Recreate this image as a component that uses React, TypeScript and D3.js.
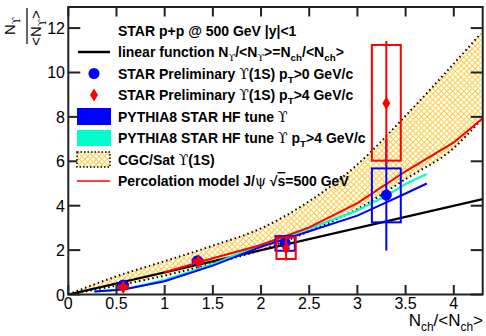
import React from "react";
import * as d3 from "d3";

const W = 486;
const H = 336;

// axis ticks
const xTicks = [0, 0.5, 1, 1.5, 2, 2.5, 3, 3.5, 4];
const yTicks = [0, 2, 4, 6, 8, 10, 12];

// linear function N/<N> = Nch/<Nch>
const linearX = [0, 4.3];

// PYTHIA8 STAR HF tune
const pythiaX = [0.27, 0.5, 0.6, 1.0, 1.5, 2.0, 2.5, 3.0, 3.3, 3.5, 3.72];
const pythiaAll = [0.13, 0.2, 0.25, 0.6, 1.3, 2.15, 2.85, 3.55, 4.15, 4.55, 5.0];
const pythiaHighPt = [0.13, 0.2, 0.26, 0.65, 1.36, 2.25, 2.98, 3.78, 4.45, 4.98, 5.43];

// percolation model J/psi
const percX = [1.0, 1.5, 2.0, 2.5, 3.0, 3.5, 4.0, 4.3];
const percY = [1.0, 1.63, 2.23, 3.02, 4.12, 5.55, 6.85, 7.94];

// CGC/Sat band
const cgcX = [0, 0.5, 1, 1.5, 2, 2.5, 3, 3.5, 4, 4.28];
const cgcHigh = [0, 0.82, 1.5, 2.2, 2.98, 4.2, 5.85, 8.05, 10.4, 11.75];
const cgcLow = [0, 0.4, 0.85, 1.4, 2.0, 2.85, 3.85, 5.2, 6.6, 7.85];

// STAR preliminary pT>0
const allX = [0.57, 1.34, 2.25, 3.3];
const allY = [0.43, 1.52, 2.33, 4.48];
const allStat = [0.08, 0.12, 0.3, 2.5];
const allSysLo = [0.4, 1.47, 1.97, 3.25];
const allSysHi = [0.46, 1.57, 2.63, 5.68];
const boxHalf = [0.05, 0.05, 0.1, 0.15];

// STAR preliminary pT>4
const highX = [0.57, 1.35, 2.26, 3.3];
const highY = [0.33, 1.48, 2.08, 8.62];
const highStat = [0.25, 0.3, 0.55, 2.8];
const highSysLo = [0.28, 1.42, 1.6, 6.03];
const highSysHi = [0.38, 1.55, 2.57, 11.24];

const x = d3.scaleLinear().domain([0, 4.3]).range([68.3, 482.7]);
const y = d3.scaleLinear().domain([0, 12.95]).range([294.5, 7]);

const BLUE = "#0000ff";
const CYAN = "#00ffcc";
const RED = "#ff0000";
const UPS = "\u03d2";

type Seg = { t: string; sub?: boolean; g?: boolean; o?: boolean };

// text with subscripts, ROOT-latex style
const Rich = ({ segs, size, ...rest }: any) => {
  let shift = 0;
  return (
    <text fontSize={size} {...rest}>
      {segs.map((s: Seg, i: number) => {
        const want = s.sub ? size * 0.3 : 0;
        const dy = want - shift;
        shift = want;
        return (
          <tspan
            key={i}
            dy={dy}
            fontSize={s.sub ? size * 0.7 : size}
            fontWeight={s.g ? "normal" : undefined}
            fontFamily={s.g ? "'DejaVu Serif', serif" : undefined}
            textDecoration={s.o ? "overline" : undefined}
          >
            {s.t}
          </tspan>
        );
      })}
    </text>
  );
};

const diamond = "M0,-6.5L4,0L0,6.5L-4,0Z";

const App = () => {
  const line = (xs: number[], ys: number[]) =>
    d3.line<number>().x((d) => x(d)).y((_, i) => y(ys[i]))(xs) as string;

  const band = d3
    .area<number>()
    .x((d) => x(d))
    .y0((_, i) => y(cgcLow[i]))
    .y1((_, i) => y(cgcHigh[i]))
    .curve(d3.curveMonotoneX)(cgcX) as string;
  const bandEdge = (ys: number[]) =>
    d3.line<number>().x((d) => x(d)).y((_, i) => y(ys[i])).curve(d3.curveMonotoneX)(cgcX) as string;

  const rowY = [30.5, 52, 73.5, 95, 116.5, 138, 159.5, 181];
  const tx = 118;
  const fs = 14;

  const legendText: Seg[][] = [
    [{ t: "STAR p+p @ 500 GeV |y|<1" }],
    [
      { t: "linear function N" }, { t: UPS, sub: true, g: true }, { t: "/<N" }, { t: UPS, sub: true, g: true },
      { t: ">=N" }, { t: "ch", sub: true }, { t: "/<N" }, { t: "ch", sub: true }, { t: ">" },
    ],
    [{ t: "STAR Preliminary  " }, { t: UPS, g: true }, { t: "(1S) p" }, { t: "T", sub: true }, { t: ">0 GeV/c" }],
    [{ t: "STAR Preliminary  " }, { t: UPS, g: true }, { t: "(1S) p" }, { t: "T", sub: true }, { t: ">4 GeV/c" }],
    [{ t: "PYTHIA8 STAR HF tune  " }, { t: UPS, g: true }],
    [{ t: "PYTHIA8 STAR HF tune  " }, { t: UPS, g: true }, { t: " p" }, { t: "T", sub: true }, { t: ">4 GeV/c" }],
    [{ t: "CGC/Sat  " }, { t: UPS, g: true }, { t: "(1S)" }],
    [{ t: "Percolation model J/" }, { t: "\u03c8", g: true }, { t: "  \u221a" }, { t: "s", o: true }, { t: "=500 GeV" }],
  ];

  const x0 = x.range()[0];
  const x1 = x.range()[1];
  const y0 = y.range()[0];
  const y1 = y.range()[1];

  return (
    <svg
      width={W}
      height={H}
      style={{ position: "absolute", left: 0, top: 0, background: "white" }}
      fontFamily="'Liberation Sans', Arial, sans-serif"
    >
      <defs>
        <clipPath id="plot">
          <rect x={x0} y={y1} width={x1 - x0} height={y0 - y1} />
        </clipPath>
        <pattern id="hatch" width={4} height={4} patternUnits="userSpaceOnUse" patternTransform="rotate(45)">
          <rect width={4} height={4} fill="white" />
          <line x1={0} y1={0.5} x2={4} y2={0.5} stroke="#ffcc44" strokeWidth={1} />
          <line x1={0.5} y1={0} x2={0.5} y2={4} stroke="#ffcc44" strokeWidth={1} />
        </pattern>
      </defs>

      <g clipPath="url(#plot)">
        {/* CGC band */}
        <path d={band} fill="url(#hatch)" />
        <path d={bandEdge(cgcHigh)} fill="none" stroke="#000" strokeWidth={2} strokeDasharray="1.5,3" />
        <path d={bandEdge(cgcLow)} fill="none" stroke="#000" strokeWidth={2} strokeDasharray="1.5,3" />

        {/* linear */}
        <path d={line(linearX, linearX)} fill="none" stroke="#000" strokeWidth={2.3} />

        {/* pythia */}
        <path d={line(pythiaX, pythiaHighPt)} fill="none" stroke={CYAN} strokeWidth={2.2} />
        <path d={line(pythiaX, pythiaAll)} fill="none" stroke={BLUE} strokeWidth={2} />

        {/* percolation */}
        <path d={line(percX, percY)} fill="none" stroke={RED} strokeWidth={2} />

        {/* pT>0 */}
        {allX.map((v, i) => (
          <g key={"a" + i}>
            <rect
              x={x(v - boxHalf[i])}
              y={y(allSysHi[i])}
              width={x(v + boxHalf[i]) - x(v - boxHalf[i])}
              height={y(allSysLo[i]) - y(allSysHi[i])}
              fill="none"
              stroke={BLUE}
              strokeWidth={2}
            />
            <line x1={x(v)} x2={x(v)} y1={y(allY[i] - allStat[i])} y2={y(allY[i] + allStat[i])} stroke={BLUE} strokeWidth={2} />
            <circle cx={x(v)} cy={y(allY[i])} r={5.5} fill={BLUE} />
          </g>
        ))}

        {/* pT>4 */}
        {highX.map((v, i) => (
          <g key={"h" + i}>
            <rect
              x={x(v - boxHalf[i])}
              y={y(highSysHi[i])}
              width={x(v + boxHalf[i]) - x(v - boxHalf[i])}
              height={y(highSysLo[i]) - y(highSysHi[i])}
              fill="none"
              stroke={RED}
              strokeWidth={2}
            />
            <line x1={x(v)} x2={x(v)} y1={y(highY[i] - highStat[i])} y2={y(highY[i] + highStat[i])} stroke={RED} strokeWidth={2} />
            <path d={diamond} transform={`translate(${x(v)},${y(highY[i])})`} fill={RED} />
          </g>
        ))}
      </g>

      {/* frame */}
      <rect x={x0} y={y1} width={x1 - x0} height={y0 - y1} fill="none" stroke="#222" strokeWidth={2} />

      {/* x ticks */}
      {xTicks.map((t) => (
        <g key={"xt" + t}>
          <line x1={x(t)} x2={x(t)} y1={y0} y2={y0 - 9.5} stroke="#222" strokeWidth={2} />
          <line x1={x(t)} x2={x(t)} y1={y1} y2={y1 + 9.5} stroke="#222" strokeWidth={2} />
          <text x={x(t)} y={309} fontSize={16} textAnchor="middle">
            {t}
          </text>
        </g>
      ))}

      {/* y ticks */}
      {yTicks.map((t) => (
        <g key={"yt" + t}>
          <line x1={x0} x2={x0 + 12} y1={y(t)} y2={y(t)} stroke="#222" strokeWidth={2} />
          <line x1={x1} x2={x1 - 12} y1={y(t)} y2={y(t)} stroke="#222" strokeWidth={2} />
          <text x={65} y={y(t) + 6} fontSize={16} textAnchor="end">
            {t}
          </text>
        </g>
      ))}

      {/* axis titles */}
      <Rich
        segs={[{ t: "N" }, { t: "ch", sub: true }, { t: "/<N" }, { t: "ch", sub: true }, { t: ">" }]}
        size={17}
        x={483}
        y={326}
        textAnchor="end"
      />
      <g transform="translate(27,26) rotate(-90)">
        <line x1={-18} x2={18} y1={0} y2={0} stroke="#000" strokeWidth={1.2} />
        <Rich segs={[{ t: "N" }, { t: UPS, sub: true, g: true }]} size={15} x={0} y={-12} textAnchor="middle" />
        <Rich
          segs={[{ t: "<N" }, { t: UPS, sub: true, g: true }, { t: ">" }]}
          size={15}
          x={-2}
          y={14}
          textAnchor="middle"
        />
      </g>

      {/* legend */}
      <g>
        <line x1={78} x2={110} y1={rowY[1]} y2={rowY[1]} stroke="#000" strokeWidth={2.5} />
        <circle cx={94} cy={rowY[2]} r={5.5} fill={BLUE} />
        <path d={diamond} transform={`translate(94,${rowY[3]})`} fill={RED} />
        <rect x={77} y={rowY[4] - 8.5} width={34} height={17} fill={BLUE} />
        <rect x={77} y={rowY[5] - 8} width={34} height={16} fill={CYAN} />
        <rect x={77} y={rowY[6] - 7.5} width={33} height={15} fill="url(#hatch)" stroke="#000" strokeWidth={1.5} strokeDasharray="1.5,2" />
        <line x1={77} x2={110} y1={rowY[7]} y2={rowY[7]} stroke={RED} strokeWidth={1.5} />
        {legendText.map((segs, i) => (
          <Rich key={"lg" + i} segs={segs} size={fs} x={tx} y={rowY[i] + 5} fontWeight="bold" />
        ))}
      </g>
    </svg>
  );
};

export default App;
